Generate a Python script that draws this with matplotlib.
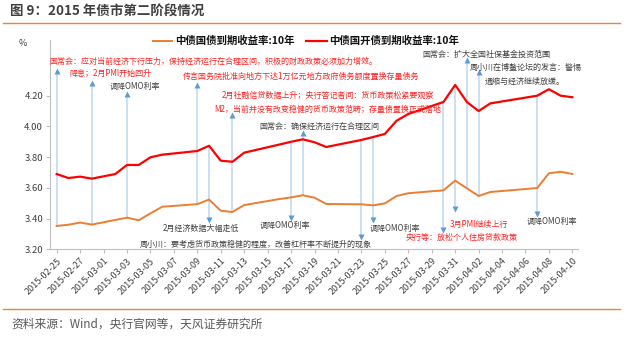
import numpy as np
import matplotlib
matplotlib.use('Agg')
import matplotlib.pyplot as plt
from matplotlib.lines import Line2D

plt.rcParams['font.family'] = ['Noto Sans CJK SC', 'DejaVu Sans']

# trading days, counted as calendar days after 2015-02-25
days = [0, 1, 2, 3, 5, 6, 7, 8, 9, 12, 13, 14, 15, 16, 19, 20, 21, 22, 23,
        26, 27, 28, 29, 30, 33, 34, 35, 36, 37, 41, 42, 43, 44]
cdb_10y = [3.690, 3.664, 3.673, 3.660, 3.690, 3.749, 3.749, 3.799, 3.816,
           3.840, 3.874, 3.777, 3.770, 3.829, 3.882, 3.900, 3.916, 3.897,
           3.866, 3.912, 3.931, 3.951, 4.037, 4.081, 4.159, 4.270, 4.159,
           4.100, 4.150, 4.200, 4.242, 4.200, 4.190]
gov_10y = [3.352, 3.360, 3.374, 3.361, 3.391, 3.406, 3.389, 3.434, 3.477,
           3.494, 3.524, 3.451, 3.443, 3.488, 3.527, 3.538, 3.552, 3.536,
           3.495, 3.493, 3.486, 3.499, 3.547, 3.565, 3.584, 3.647, 3.597,
           3.547, 3.573, 3.599, 3.695, 3.705, 3.690]

tick_days = list(range(0, 45, 2))
tick_labels = ['2015-02-25', '2015-02-27', '2015-03-01', '2015-03-03', '2015-03-05',
               '2015-03-07', '2015-03-09', '2015-03-11', '2015-03-13', '2015-03-15',
               '2015-03-17', '2015-03-19', '2015-03-21', '2015-03-23', '2015-03-25',
               '2015-03-27', '2015-03-29', '2015-03-31', '2015-04-02', '2015-04-04',
               '2015-04-06', '2015-04-08', '2015-04-10']
yticks = [3.20, 3.40, 3.60, 3.80, 4.00, 4.20]

# event markers: day, arrow tip level
up_days = [0, 3, 6, 12, 15, 21, 35, 36]
up_tips = [4.348, 4.270, 4.198, 4.257, 4.061, 3.944, 4.420, 4.342]
down_days = [13, 20, 26, 27, 33, 34, 41]
down_tips = [3.402, 3.417, 3.293, 3.404, 3.339, 3.475, 3.445]

RED_TXT = '#ff2020'
DARK_TXT = '#404040'
# text, x (day), y (level), colour, alignment
notes = [
    ('国常会：应对当前经济下行压力，保持经济运行在合理区间，积极的财政政策必须加力增效。', -0.66, 4.421, RED_TXT, 'left'),
    ('降息；2月PMI开始回升', 1.05, 4.346, RED_TXT, 'left'),
    ('调降OMO利率', 4.56, 4.263, DARK_TXT, 'left'),
    ('传言国务院批准向地方下达1万亿元地方政府债务额度置换存量债务', 10.78, 4.328, RED_TXT, 'left'),
    ('2月社融信贷数据上升；央行答记者问：货币政策松紧要观察', 23.15, 4.205, RED_TXT, 'center'),
    ('M2，当前并没有改变稳健的货币政策范畴；存量债置换正式落地', 23.15, 4.113, RED_TXT, 'center'),
    ('国常会：确保经济运行在合理区间', 22.4, 4.003, DARK_TXT, 'center'),
    ('国常会：扩大全国社保基金投资范围', 36.7, 4.470, DARK_TXT, 'center'),
    ('周小川在博鳌论坛的发言：警惕', 40.0, 4.387, DARK_TXT, 'center'),
    ('通缩与经济继续放缓。', 39.9, 4.296, DARK_TXT, 'center'),
    ('2月经济数据大幅走低', 9.07, 3.337, DARK_TXT, 'left'),
    ('调降OMO利率', 17.35, 3.352, DARK_TXT, 'left'),
    ('周小川：要考虑货币政策稳健的程度，改善杠杆率不断提升的现象', 7.1, 3.234, DARK_TXT, 'left'),
    ('调降OMO利率', 26.7, 3.337, DARK_TXT, 'left'),
    ('央行等：放松个人住房贷款政策', 29.8, 3.278, RED_TXT, 'left'),
    ('3月PMI继续上行', 33.56, 3.365, RED_TXT, 'left'),
    ('调降OMO利率', 40.1, 3.380, DARK_TXT, 'left'),
]

W, H = 628, 338
fig = plt.figure(figsize=(W / 100, H / 100), dpi=100)
ax = fig.add_axes([50 / W, 1 - 249.3 / H, 528 / W, (249.3 - 40) / H])

ORANGE = '#ed7d31'
RED = '#ff0000'
VLINE = '#bdd7ee'
HEAD = '#5b9bd5'

lookup_red = dict(zip(days, cdb_10y))
lookup_org = dict(zip(days, gov_10y))

for d, tip in zip(up_days, up_tips):
    ax.plot([d, d], [lookup_org[d], tip], color=VLINE, lw=1.1, zorder=1)
    ax.plot(d, tip + 0.012, marker='^', ms=4.5, color=HEAD, mec='none', zorder=2, clip_on=False)
for d, tip in zip(down_days, down_tips):
    ax.plot([d, d], [lookup_red[d], tip], color=VLINE, lw=1.1, zorder=1)
    ax.plot(d, tip - 0.012, marker='v', ms=4.5, color=HEAD, mec='none', zorder=2, clip_on=False)

ax.plot(days, gov_10y, color=ORANGE, lw=1.4, zorder=3)
ax.plot(days, cdb_10y, color=RED, lw=1.6, zorder=3)

for txt, x, y, c, ha in notes:
    ax.text(x, y, txt, color=c, ha=ha, va='center', fontsize=5.8, zorder=4, clip_on=False)

ax.set_xlim(-0.57, 44.48)
ax.set_ylim(3.2, 3.2 + (249.3 - 40) / 153.6)
ax.set_yticks(yticks)
ax.set_yticklabels([f'{v:.2f}' for v in yticks], fontsize=6.8, color='#404040')
ax.set_xticks(tick_days)
ax.set_xticklabels(tick_labels, rotation=45, ha='right', va='top',
                   rotation_mode='anchor', fontsize=6.5, color='#404040')
ax.tick_params(axis='both', length=3, color='#bfbfbf', width=0.8, pad=2)
for side in ['top', 'right']:
    ax.spines[side].set_visible(False)
for side in ['left', 'bottom']:
    ax.spines[side].set_color('#bfbfbf')
    ax.spines[side].set_linewidth(0.8)

fig.text(23 / W, 1 - 43 / H, '%', fontsize=6.5, color='#404040', ha='center', va='center')

# legend
fig.add_artist(Line2D([153 / W, 172 / W], [1 - 41 / H] * 2, color=ORANGE, lw=1.4))
fig.text(175 / W, 1 - 41 / H, '中债国债到期收益率:10年', fontsize=7.5, fontweight='bold',
         color='#111111', ha='left', va='center')
fig.add_artist(Line2D([306 / W, 327 / W], [1 - 41 / H] * 2, color=RED, lw=1.6))
fig.text(329 / W, 1 - 41 / H, '中债国开债到期收益率:10年', fontsize=7.5, fontweight='bold',
         color='#111111', ha='left', va='center')

# title, rules, source
fig.text(10 / W, 1 - 12 / H, '图 9：2015 年债市第二阶段情况', fontsize=9.7, fontweight='bold',
         color='#404040', ha='left', va='center')
fig.add_artist(Line2D([3 / W, 620 / W], [1 - 23.3 / H] * 2, color='#e8892f', lw=1.0))
fig.add_artist(Line2D([3 / W, 620 / W], [1 - 309.3 / H] * 2, color='#e8892f', lw=1.0))
fig.text(11 / W, 1 - 324.3 / H, '资料来源：Wind，央行官网等，天风证券研究所', fontsize=8.5,
         color='#595959', ha='left', va='center')

fig.savefig('out.png', dpi=100)
